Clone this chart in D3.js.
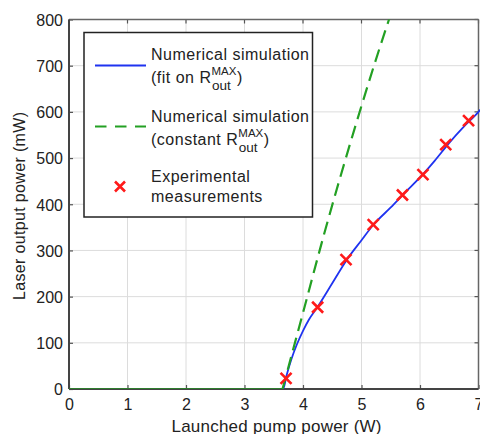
<!DOCTYPE html>
<html>
<head>
<meta charset="utf-8">
<script src="https://cdn.jsdelivr.net/npm/d3@7"></script>
<style>
  body { margin: 0; background: #fff; }
  text { font-family: "Liberation Sans", Arial, sans-serif; fill: #222; }
</style>
</head>
<body>
<div id="chart"></div>
<script>
var w = 480;
var h = 434;
var margin = {top: 19.5, right: 1.5, bottom: 45, left: 69};

// data
var xTicks = [0, 1, 2, 3, 4, 5, 6, 7];
var yTicks = [0, 100, 200, 300, 400, 500, 600, 700, 800];

var fitX = [0, 3.66, 3.72, 3.80, 3.90, 4.0, 4.1, 4.25, 4.5, 4.75, 5.0, 5.2, 5.5, 5.75, 6.0, 6.25, 6.5, 6.75, 7.0, 7.1];
var fitY = [0, 0, 30, 64, 98, 126, 150, 178, 229, 280, 322, 355, 393, 426, 458, 494, 533, 568, 600, 615];

var constX = [0, 3.65, 4.0, 4.36, 4.89, 5.47, 5.55];
var constY = [0, 0, 165, 335, 567, 800, 830];

var measX = [3.71, 4.25, 4.735, 5.2, 5.70, 6.05, 6.44, 6.83];
var measY = [23, 177, 280, 356, 420, 464, 529, 581];

var blue = "#1f33f0", green = "#23a023", red = "#ff1a1a";

var svg = d3.select("#chart")
            .append("svg")
            .attr("width", w)
            .attr("height", h);

var x = d3.scaleLinear().domain([0, 7]).range([margin.left, w - margin.right]);
var y = d3.scaleLinear().domain([0, 800]).range([h - margin.bottom, margin.top]);

// grid
svg.append("g").selectAll("line")
    .data(xTicks.slice(1, -1))
    .enter().append("line")
    .attr("x1", d => x(d)).attr("x2", d => x(d))
    .attr("y1", y(0)).attr("y2", y(800))
    .attr("stroke", "#dcdcdc").attr("stroke-width", 1);
svg.append("g").selectAll("line")
    .data(yTicks.slice(1, -1))
    .enter().append("line")
    .attr("x1", x(0)).attr("x2", x(7))
    .attr("y1", d => y(d)).attr("y2", d => y(d))
    .attr("stroke", "#dcdcdc").attr("stroke-width", 1);

// axes
var xAxis = d3.axisBottom(x).tickValues(xTicks).tickFormat(d3.format("d")).tickSize(-4).tickPadding(9.5);
var yAxis = d3.axisLeft(y).tickValues(yTicks).tickFormat(d3.format("d")).tickSize(-4).tickPadding(6);
var gx = svg.append("g")
    .attr("transform", "translate(0," + y(0) + ")")
    .call(xAxis);
var gy = svg.append("g")
    .attr("transform", "translate(" + x(0) + ",0)")
    .call(yAxis);
[gx, gy].forEach(g => {
    g.select(".domain").remove();
    g.selectAll(".tick line").attr("stroke", "#555").attr("stroke-width", 1.2);
    g.selectAll(".tick text")
        .style("font-size", "16px")
        .style("font-family", "'Liberation Sans', Arial, sans-serif")
        .attr("fill", "#222");
});
gy.selectAll(".tick text").attr("dy", "0.36em");

// top / right ticks
svg.append("g").selectAll("line").data(xTicks).enter().append("line")
    .attr("x1", d => x(d)).attr("x2", d => x(d))
    .attr("y1", y(800)).attr("y2", y(800) + 4)
    .attr("stroke", "#555").attr("stroke-width", 1.2);
svg.append("g").selectAll("line").data(yTicks).enter().append("line")
    .attr("x1", x(7)).attr("x2", x(7) - 4)
    .attr("y1", d => y(d)).attr("y2", d => y(d))
    .attr("stroke", "#555").attr("stroke-width", 1.2);

// frame
svg.append("line").attr("x1", x(0)).attr("x2", x(7)).attr("y1", y(800)).attr("y2", y(800))
    .attr("stroke", "#666").attr("stroke-width", 1.5);
svg.append("line").attr("x1", x(7)).attr("x2", x(7)).attr("y1", y(800)).attr("y2", y(0))
    .attr("stroke", "#666").attr("stroke-width", 1.5);
svg.append("line").attr("x1", x(0)).attr("x2", x(0)).attr("y1", y(800)).attr("y2", y(0))
    .attr("stroke", "#444").attr("stroke-width", 2);
svg.append("line").attr("x1", x(0)).attr("x2", x(7)).attr("y1", y(0)).attr("y2", y(0))
    .attr("stroke", "#444").attr("stroke-width", 2);

// clip
svg.append("clipPath").attr("id", "clip")
    .append("rect")
    .attr("x", x(0)).attr("y", y(800))
    .attr("width", x(7) - x(0) + 2).attr("height", y(0) - y(800));

var plot = svg.append("g").attr("clip-path", "url(#clip)");
var line = d3.line().x(d => x(d[0])).y(d => y(d[1]));

var fitData = fitX.map((d, i) => [d, fitY[i]]);
var constData = constX.map((d, i) => [d, constY[i]]);

plot.append("path")
    .datum(fitData)
    .attr("d", line.curve(d3.curveMonotoneX))
    .attr("fill", "none")
    .attr("stroke", blue)
    .attr("stroke-width", 1.8);

// flat part of the constant-R curve is drawn solid, rising part dashed
plot.append("path")
    .datum(constData.filter(d => d[1] === 0))
    .attr("d", line.curve(d3.curveLinear))
    .attr("fill", "none")
    .attr("stroke", "#2e7d2e")
    .attr("stroke-width", 2);
plot.append("path")
    .datum(constData.filter((d, i) => i >= 1 && (d[1] > 0 || constData[i + 1] && constData[i + 1][1] > 0)))
    .attr("d", line.curve(d3.curveMonotoneX))
    .attr("fill", "none")
    .attr("stroke", green)
    .attr("stroke-width", 2.2)
    .attr("stroke-dasharray", "13,7");

function cross(g, cx, cy, s) {
    g.append("path")
        .attr("d", "M" + (cx - s) + "," + (cy - s) + "L" + (cx + s) + "," + (cy + s) +
                   "M" + (cx - s) + "," + (cy + s) + "L" + (cx + s) + "," + (cy - s))
        .attr("stroke", red)
        .attr("stroke-width", 2.6)
        .attr("fill", "none");
}
measX.forEach((d, i) => cross(svg, x(d), y(measY[i]), 5.5));

// axis titles
svg.append("text")
    .attr("x", 276.5).attr("y", 431.5)
    .attr("text-anchor", "middle")
    .attr("textLength", 210)
    .attr("lengthAdjust", "spacing")
    .style("font-size", "17px")
    .text("Launched pump power (W)");
svg.append("text")
    .attr("transform", "translate(25,206) rotate(-90)")
    .attr("text-anchor", "middle")
    .attr("textLength", 188)
    .attr("lengthAdjust", "spacing")
    .style("font-size", "16px")
    .text("Laser output power (mW)");

// legend
var lg = svg.append("g");
lg.append("rect")
    .attr("x", 84).attr("y", 32.5)
    .attr("width", 228.5).attr("height", 184.5)
    .attr("fill", "#fff")
    .attr("stroke", "#222")
    .attr("stroke-width", 1.5);

var tx = 151, fs = "16px", ls = "0.5px";
function label(txt, ty) {
    return lg.append("text").attr("x", tx).attr("y", ty)
        .style("font-size", fs).style("letter-spacing", ls).text(txt);
}
function rLabel(prefix, ty) {
    var t = label(prefix, ty);
    var xr = tx + t.node().getComputedTextLength();
    var sup = lg.append("text").attr("x", xr).attr("y", ty - 8).style("font-size", "11.5px").text("MAX");
    var sub = lg.append("text").attr("x", xr + 0.5).attr("y", ty + 7).style("font-size", "13.5px").text("out");
    var wmax = Math.max(sup.node().getComputedTextLength(), sub.node().getComputedTextLength() + 0.5);
    lg.append("text").attr("x", xr + wmax + 0.5).attr("y", ty).style("font-size", fs).text(")");
}

lg.append("line").attr("x1", 95).attr("x2", 146).attr("y1", 65.5).attr("y2", 65.5)
    .attr("stroke", blue).attr("stroke-width", 1.8);
label("Numerical simulation", 60);
rLabel("(fit on R", 83);

lg.append("line").attr("x1", 95).attr("x2", 146).attr("y1", 126.5).attr("y2", 126.5)
    .attr("stroke", green).attr("stroke-width", 2.2).attr("stroke-dasharray", "11.5,8.5");
label("Numerical simulation", 121.5);
rLabel("(constant R", 145);

cross(lg, 120, 186.5, 5);
label("Experimental", 182);
label("measurements", 201.5);
</script>
</body>
</html>
